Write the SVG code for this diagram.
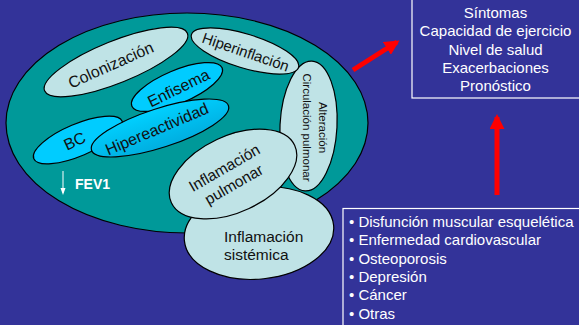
<svg xmlns="http://www.w3.org/2000/svg" width="579" height="325" viewBox="0 0 579 325">
<defs>
<style>
.big{fill:#009999;stroke:#000;stroke-width:1.2}
.lt{fill:#bfe3e6;stroke:#000;stroke-width:1.2}
.cy{fill:#00ccff;stroke:#000;stroke-width:1.2}
.t{font-family:"Liberation Sans",Arial,sans-serif;fill:#111;text-anchor:middle}
.w{font-family:"Liberation Sans",Arial,sans-serif;fill:#fff;font-size:15px}
.box{fill:none;stroke:#fff;stroke-width:1.2}
.red{stroke:#ff0000;stroke-width:5;fill:none}
</style>
<linearGradient id="hg" x1="0" y1="0" x2="0" y2="1">
<stop offset="0" stop-color="#00d0ff"/>
<stop offset="1" stop-color="#00aee0"/>
</linearGradient>
<marker id="ah" viewBox="0 0 10 10" refX="8" refY="5" markerWidth="3" markerHeight="3" orient="auto" markerUnits="strokeWidth">
<path d="M0,0 L10,5 L0,10 z" fill="#ff0000"/>
</marker>
<marker id="wh" viewBox="0 0 10 10" refX="9" refY="5" markerWidth="5" markerHeight="5" orient="auto" markerUnits="strokeWidth">
<path d="M0,1 L10,5 L0,9 z" fill="#fff"/>
</marker>
</defs>
<rect width="579" height="325" fill="#333399"/>

<g id="lung">
<ellipse class="big" cx="187" cy="123" rx="181" ry="110"/>
</g>

<g id="colonizacion">
<ellipse class="lt" cx="116" cy="62" rx="77" ry="21" transform="rotate(-22 116 62)"/>
<text class="t" font-size="16" transform="translate(113 70) rotate(-24)">Colonización</text>
</g>

<g id="alteracion">
<ellipse class="lt" cx="308.5" cy="126" rx="28.5" ry="65" transform="rotate(3 308.5 126)"/>
<text class="t" font-size="11.5" transform="translate(307 127.5) rotate(90)"><tspan x="0" y="-12">Alteración</tspan><tspan x="0" y="4">Circulación pulmonar</tspan></text>
</g>

<g id="hiperinflacion">
<ellipse class="lt" cx="245" cy="51" rx="56" ry="17" transform="rotate(17 245 51)"/>
<text class="t" font-size="15" transform="translate(244 57) rotate(19)">Hiperinflación</text>
</g>

<g id="enfisema">
<ellipse class="cy" cx="177" cy="87" rx="49" ry="16.5" transform="rotate(-23 177 87)"/>
<text class="t" font-size="16" transform="translate(181 93) rotate(-26)">Enfisema</text>
</g>

<g id="bc">
<ellipse class="cy" cx="78" cy="140" rx="48" ry="16" transform="rotate(-23 78 140)"/>
<text class="t" font-size="16" transform="translate(77 146) rotate(-25)">BC</text>
</g>

<g id="hipereactividad">
<ellipse cx="160" cy="128" rx="72" ry="19.5" transform="rotate(-18 160 128)" fill="url(#hg)" stroke="#000" stroke-width="1.2"/>
<text class="t" font-size="16" transform="translate(159 134) rotate(-23)">Hipereactividad</text>
</g>

<g id="inflamacion-sistemica">
<ellipse class="lt" cx="259" cy="233" rx="75" ry="46" transform="rotate(-6 259 233)"/>
<text class="t" font-size="15.5" style="text-anchor:start"><tspan x="224" y="242">Inflamación</tspan><tspan x="224" y="260">sistémica</tspan></text>
</g>

<g id="inflamacion-pulmonar">
<ellipse class="lt" cx="233" cy="174" rx="68" ry="38" transform="rotate(-25 233 174)"/>
<text class="t" font-size="15.5" transform="translate(229 176) rotate(-30)"><tspan x="0" y="-4">Inflamación</tspan><tspan x="0" y="15">pulmonar</tspan></text>
</g>

<g id="fev1">
<line x1="63" y1="171" x2="63" y2="193" stroke="#fff" stroke-width="1"/>
<path d="M60.5,188 L63,195 L65.5,188 z" fill="#fff"/>
<text class="w" x="75" y="189" font-size="14" font-weight="bold" style="font-size:14px">FEV1</text>
</g>

<g id="outcomes">
<rect class="box" x="412" y="-2" width="170" height="100"/>
<text class="w" text-anchor="middle"><tspan x="495.5" y="18">Síntomas</tspan><tspan x="495.5" y="36">Capacidad de ejercicio</tspan><tspan x="495.5" y="55">Nivel de salud</tspan><tspan x="495.5" y="73">Exacerbaciones</tspan><tspan x="495.5" y="91">Pronóstico</tspan></text>
</g>

<g id="comorbidities">
<rect class="box" x="343" y="208.5" width="240" height="120"/>
<text class="w"><tspan x="349" y="227">• Disfunción muscular esquelética</tspan><tspan x="349" y="245">• Enfermedad cardiovascular</tspan><tspan x="349" y="264">• Osteoporosis</tspan><tspan x="349" y="282">• Depresión</tspan><tspan x="349" y="300">• Cáncer</tspan><tspan x="349" y="319">• Otras</tspan></text>
</g>

<g id="connectors">
<line class="red" x1="353" y1="70" x2="397" y2="42" marker-end="url(#ah)"/>
<line class="red" x1="497" y1="195" x2="497" y2="117" marker-end="url(#ah)"/>
</g>
</svg>
